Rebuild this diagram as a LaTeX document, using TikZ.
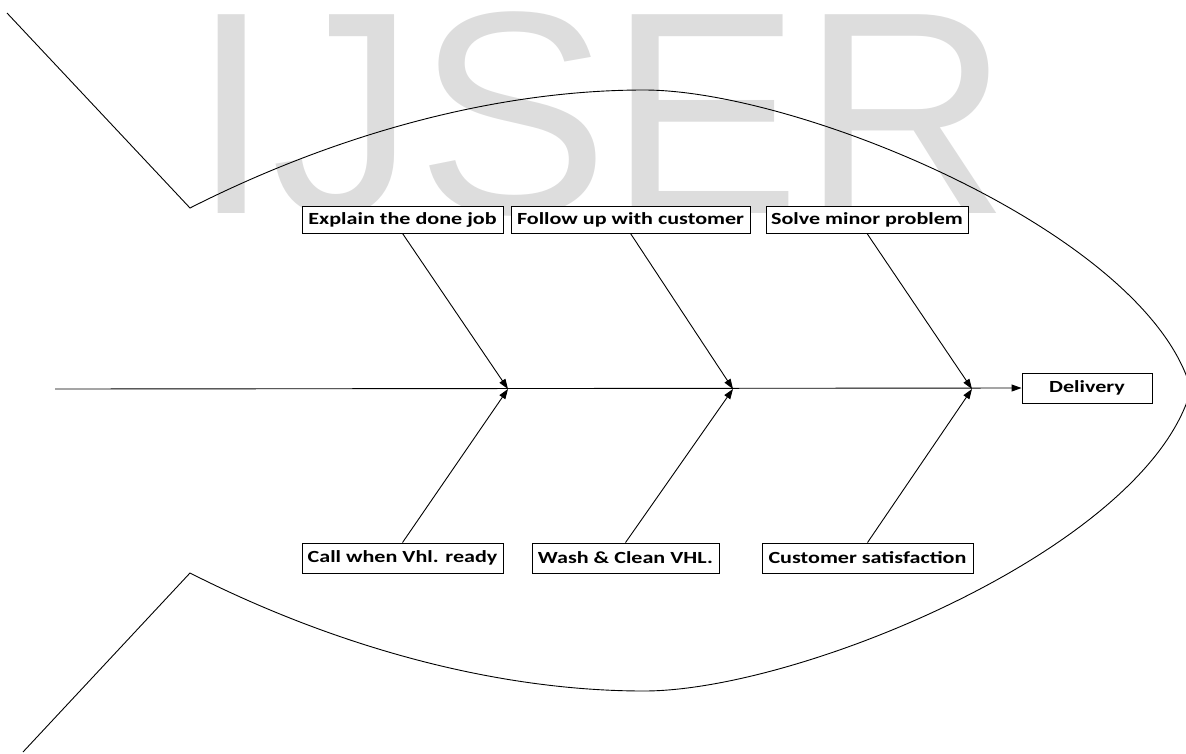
\documentclass[tikz,border=0pt]{standalone}
\usepackage{fontspec}
\usepackage{graphicx}
\setmainfont{Carlito}
\newfontfamily\wmfont{Liberation Sans}
\usetikzlibrary{arrows.meta}
\definecolor{wm}{HTML}{DDDDDD}
\newcommand{\bt}[1]{\scalebox{1.3}[1]{#1}}
\begin{document}
\begin{tikzpicture}[x=1pt,y=-1pt,
  box/.style={draw=black, fill=white, line width=0.9pt, inner sep=0pt, font=\fontsize{17}{20}\selectfont\bfseries},
  ln/.style={line width=0.9pt},
  arr/.style={ln, -{Triangle[length=10pt,width=7pt]}}]
\useasboundingbox (0,0) rectangle (1186,753);
\node[anchor=base west, inner sep=0pt, text=wm, font=\wmfont\fontsize{289}{289}\selectfont] (wmk) at (191,213) {IJSER};
% fish outline
\coordinate (tt) at (7,13);
\coordinate (tc) at (190,208);
\coordinate (tp) at (644,90);
\coordinate (nose) at (1191,389.5);
\coordinate (bc) at (190,573);
\coordinate (bp) at (644,691);
\coordinate (tb) at (23,752);
\draw[ln] (tt) -- (tc) .. controls (340,132) and (500,90) .. (tp) .. controls (800,90) and (1148,234) .. (nose);
\draw[ln] (tb) -- (bc) .. controls (340,649) and (500,691) .. (bp) .. controls (800,691) and (1148,547) .. (nose);
% boxes
\node[box, minimum width=201pt, minimum height=27pt] (b1) at (402.5,219.5) {\bt{Explain the done job}};
\node[box, minimum width=239pt, minimum height=27pt] (b2) at (630.5,219.5) {\bt{Follow up with customer}};
\node[box, minimum width=202pt, minimum height=27pt] (b3) at (867,219.5) {\bt{Solve minor problem}};
\node[box, minimum width=201pt, minimum height=30pt] (c1) at (402.5,558) {\bt{Call when Vhl. ready}};
\node[box, minimum width=187pt, minimum height=30pt] (c2) at (625.5,558) {\bt{Wash \& Clean VHL.}};
\node[box, minimum width=211pt, minimum height=30pt] (c3) at (867.5,558) {\bt{Customer satisfaction}};
\node[box, minimum width=130pt, minimum height=30pt] (del) at (1087,388) {\bt{Delivery}};
% spine
\coordinate (sp) at (55,389);
\coordinate (j1) at (508,389);
\coordinate (j2) at (733,389);
\coordinate (j3) at (972,389);
\draw[arr] (sp) -- (del.west);
\draw[arr] (b1.south) -- (j1);
\draw[arr] (b2.south) -- (j2);
\draw[arr] (b3.south) -- (j3);
\draw[arr] (c1.north) -- (j1);
\draw[arr] (c2.north) -- (j2);
\draw[arr] (c3.north) -- (j3);
\end{tikzpicture}
\end{document}
